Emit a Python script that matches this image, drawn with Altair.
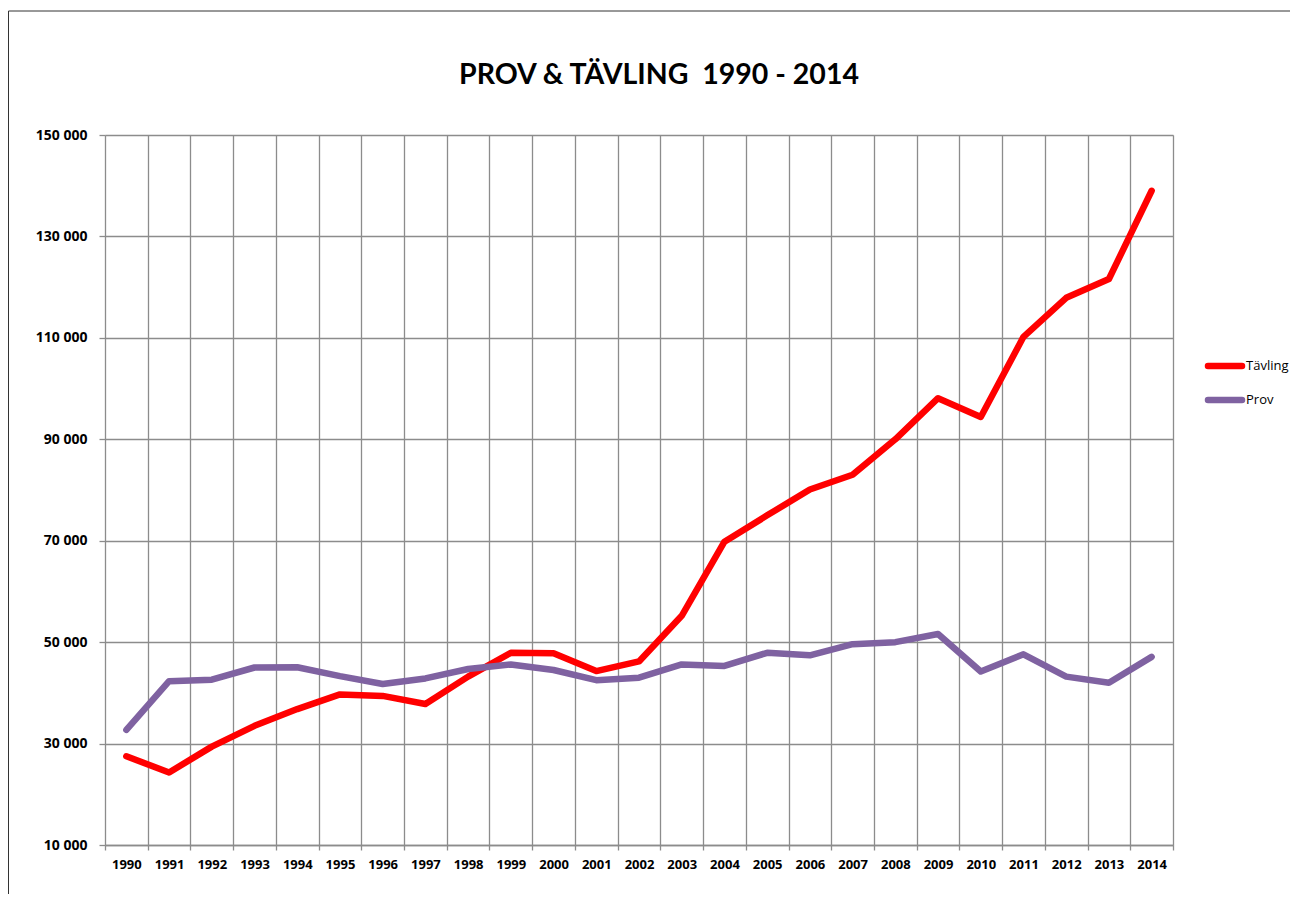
import altair as alt
import pandas as pd

years = list(range(1990, 2015))
tavling = [27500, 24300, 29400, 33500, 36800, 39700, 39400, 37800, 43200, 47900,
           47800, 44300, 46200, 55200, 69800, 75000, 80100, 83000, 90000, 98100,
           94400, 110200, 117900, 121600, 139000]
prov = [32700, 42300, 42600, 45000, 45050, 43300, 41750, 42850, 44700, 45600,
        44500, 42500, 43000, 45600, 45300, 47900, 47400, 49600, 50000, 51600,
        44200, 47600, 43200, 42000, 47100]
series = ["Tävling", "Prov"]
colors = ["#FF0000", "#7F62A1"]
y_ticks = [10000, 30000, 50000, 70000, 90000, 110000, 130000, 150000]
title_text = "PROV & TÄVLING\u00a0 1990 - 2014"

rows = []
for name, vals in zip(series, [tavling, prov]):
    for yr, v in zip(years, vals):
        rows.append({"year": str(yr), "value": v, "series": name})
df = pd.DataFrame(rows)
leg_df = pd.DataFrame({"series": series})

W, H = 1068, 710
grid_color = "#8c8c8c"
color_scale = alt.Scale(domain=series, range=colors)

lines = alt.Chart(df).mark_line(strokeWidth=6.5, strokeCap="round", strokeJoin="round").encode(
    x=alt.X("year:O", bandPosition=0.5,
            scale=alt.Scale(type="band", paddingInner=0, paddingOuter=0),
            axis=alt.Axis(title=None, labelAngle=0, tickBand="extent", grid=True,
                          gridColor=grid_color, gridWidth=1.3, tickColor=grid_color,
                          tickWidth=1.3, tickSize=5, domainColor=grid_color, domainWidth=1.3,
                          labelFont="Open Sans", labelFontWeight="bold", labelFontSize=13,
                          labelColor="#000000", labelPadding=8)),
    y=alt.Y("value:Q", scale=alt.Scale(domain=[10000, 150000], nice=False, zero=False),
            axis=alt.Axis(title=None, values=y_ticks, grid=True, gridColor=grid_color,
                          gridWidth=1.3, tickColor=grid_color, tickWidth=1.3, tickSize=6,
                          domain=False,
                          labelExpr="replace(format(datum.value, ','), ',', ' ')",
                          labelFont="Open Sans", labelFontWeight="bold", labelFontSize=14,
                          labelColor="#000000", labelPadding=12)),
    color=alt.Color("series:N", sort=series, scale=color_scale, legend=None),
    order=alt.Order("series:N", sort="descending"),
)

leg_y = alt.Y("series:N", sort=series,
              scale=alt.Scale(type="point", domain=series, range=[231, 265], padding=0),
              axis=None)
leg_sym = alt.Chart(leg_df).mark_rule(strokeWidth=6.5, strokeCap="round").encode(
    x=alt.value(1103), x2=alt.value(1137), y=leg_y,
    color=alt.Color("series:N", scale=color_scale, legend=None))
leg_txt = alt.Chart(leg_df).mark_text(
    font="Open Sans", fontSize=13, color="#000000", align="left", baseline="middle").encode(
    x=alt.value(1141), y=leg_y, text="series:N")
legend = alt.layer(leg_sym, leg_txt)

frame_df = pd.DataFrame({"k": [0]})
top_line = alt.Chart(frame_df).mark_rule(color="#333333", strokeWidth=1).encode(
    x=alt.value(-96.5), x2=alt.value(1200), y=alt.value(-124))
left_line = alt.Chart(frame_df).mark_rule(color="#333333", strokeWidth=1).encode(
    x=alt.value(-96.5), y=alt.value(-124), y2=alt.value(780))

title_df = pd.DataFrame({"t": [title_text]})
title = alt.Chart(title_df).mark_text(
    font="Lato", fontSize=28.5, fontWeight="bold", color="#000000",
    align="center", baseline="alphabetic").encode(
    text="t:N", x=alt.value(554), y=alt.value(-51))

chart = alt.layer(top_line, left_line, title, lines, legend).resolve_scale(
    y="independent"
).properties(
    width=W, height=H,
    autosize=alt.AutoSizeParams(type="none"),
    padding={"left": 97, "top": 127, "right": 117, "bottom": 49},
).configure_view(stroke=None).configure(background="white")

chart.save("out.html", embed_options={"renderer": "svg", "actions": False})
